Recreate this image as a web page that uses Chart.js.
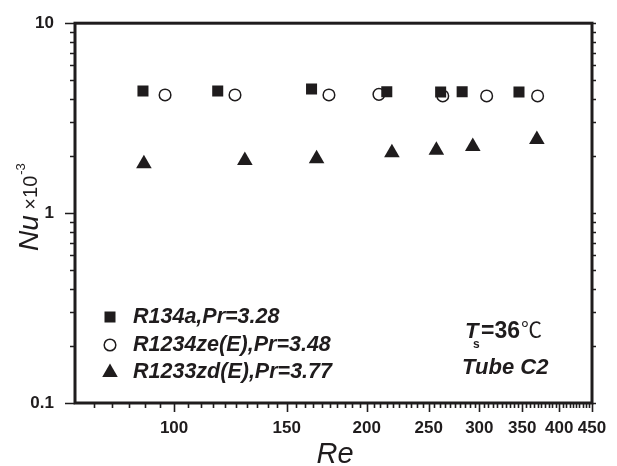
<!DOCTYPE html>
<html><head><meta charset="utf-8">
<script src="https://cdn.jsdelivr.net/npm/chart.js@4/dist/chart.umd.min.js"></script>
<style>html,body{margin:0;padding:0;background:#fff;}#wrap{width:617px;height:466px;}</style>
</head><body><div id="wrap"><canvas id="c" width="617" height="466"></canvas></div>
<script>
// ---- data ----
const xTickValues = [100, 150, 200, 250, 300, 350, 400, 450];
const yTickValues = [0.1, 1, 10];
const seriesNames = ['R134a,Pr=3.28', 'R1234ze(E),Pr=3.48', 'R1233zd(E),Pr=3.77'];
const reR134a = [89.4, 117, 164, 215, 261, 282, 346];
const nuR134a = [4.39, 4.39, 4.50, 4.35, 4.34, 4.35, 4.34];
const reR1234ze = [96.8, 124.5, 174.6, 209, 263, 308, 370];
const nuR1234ze = [4.19, 4.19, 4.19, 4.22, 4.14, 4.14, 4.14];
const reR1233zd = [89.7, 129, 167, 219, 257, 293, 369];
const nuR1233zd = [1.82, 1.89, 1.93, 2.08, 2.14, 2.24, 2.44];
const xTitle = 'Re';
const annotation1 = ['T', 's', '=36', '℃'];
const annotation2 = 'Tube C2';

const F = '"Liberation Sans", Arial, sans-serif';
const ink = '#1f1c1d';
const pts = (xs, ys) => xs.map((v, i) => ({x: v, y: ys[i]}));

function drawMarker(ctx, style, x, y) {
  ctx.save();
  ctx.fillStyle = ink; ctx.strokeStyle = ink;
  if (style === 'rect') { const s = 5.5; ctx.fillRect(x - s, y - s, 2 * s, 2 * s); }
  else if (style === 'circle') { ctx.fillStyle = '#fff'; ctx.lineWidth = 1.5; ctx.beginPath(); ctx.arc(x, y, 5.8, 0, Math.PI * 2); ctx.fill(); ctx.stroke(); }
  else { const r = 9; ctx.beginPath();
    for (let k = 0; k < 3; k++) { const a = k * 2 * Math.PI / 3; const px = x + Math.sin(a) * r, py = y - Math.cos(a) * r; k ? ctx.lineTo(px, py) : ctx.moveTo(px, py); }
    ctx.closePath(); ctx.fill(); }
  ctx.restore();
}

const decor = {
  id: 'decor',
  afterDraw(chart) {
    const {ctx, chartArea: a, scales: {x, y}} = chart;
    ctx.save();
    ctx.strokeStyle = ink;
    ctx.lineWidth = 3;
    ctx.strokeRect(a.left, a.top, a.right - a.left, a.bottom - a.top);
    // y ticks
    ctx.lineWidth = 1.6;
    ctx.beginPath();
    for (const d of [0.1, 1]) for (let k = 1; k <= 10; k++) {
      const v = d * k; const p = Math.round(y.getPixelForValue(v)) + 0.5;
      const major = (k === 1 || k === 10); const L = major ? 10 : 5;
      ctx.moveTo(a.left - L, p); ctx.lineTo(a.left, p);
      ctx.moveTo(a.right, p); ctx.lineTo(a.right + 4, p);
    }
    // x ticks
    for (let v = 75; v <= 450; v += 5) {
      const p = Math.round(x.getPixelForValue(v)) + 0.5;
      const major = xTickValues.includes(v); const L = major ? 9 : 5;
      ctx.moveTo(p, a.bottom); ctx.lineTo(p, a.bottom + L);
    }
    ctx.stroke();

    ctx.fillStyle = ink;
    // legend
    const ly = [317, 345, 371];
    const styles = ['rect', 'circle', 'triangle'];
    ctx.font = 'italic bold 21.5px ' + F;
    ctx.textBaseline = 'alphabetic'; ctx.textAlign = 'left';
    const base = [323, 350.5, 377.5];
    styles.forEach((s, i) => { drawMarker(ctx, s, 110, ly[i] + (s === 'triangle' ? 1.5 : 0)); ctx.fillStyle = ink; ctx.fillText(seriesNames[i], 133, base[i]); });

    // annotation
    ctx.font = 'italic bold 22px ' + F;
    ctx.fillText(annotation1[0], 465, 337.5);
    ctx.font = 'bold 12px ' + F;
    ctx.fillText(annotation1[1], 473, 348);
    ctx.font = 'bold 23px ' + F;
    ctx.fillText(annotation1[2], 481, 337.5);
    const w36 = ctx.measureText(annotation1[2]).width;
    ctx.font = '21px "Noto Sans CJK SC", "DejaVu Sans", sans-serif';
    ctx.fillText(annotation1[3], 481 + w36 + 1, 337);
    ctx.font = 'italic bold 22px ' + F;
    ctx.fillText(annotation2, 462, 373.5);

    // x title
    ctx.font = 'italic 29px ' + F;
    ctx.textAlign = 'center';
    ctx.fillText(xTitle, 335, 463);

    // y title (rotated)
    ctx.save();
    ctx.translate(37.5, 251);
    ctx.rotate(-Math.PI / 2);
    ctx.textAlign = 'left';
    ctx.font = 'italic 28px ' + F;
    ctx.fillText('Nu', 0, 0);
    let w = ctx.measureText('Nu').width;
    ctx.font = '20px ' + F;
    ctx.fillText(' \u00d710', w, -1);
    w += ctx.measureText(' \u00d710').width;
    ctx.font = '13px ' + F;
    ctx.fillText('-3', w + 1, -13);
    ctx.restore();
    ctx.restore();
  }
};

new Chart(document.getElementById('c'), {
  type: 'scatter',
  data: {
    datasets: [
      {label: seriesNames[0], data: pts(reR134a, nuR134a), pointStyle: 'rect', pointRadius: 7.8, backgroundColor: ink, borderWidth: 0},
      {label: seriesNames[1], data: pts(reR1234ze, nuR1234ze), pointStyle: 'circle', pointRadius: 5.8, backgroundColor: '#fff', borderColor: ink, borderWidth: 1.5},
      {label: seriesNames[2], data: pts(reR1233zd, nuR1233zd), pointStyle: 'triangle', pointRadius: 9, backgroundColor: ink, borderWidth: 0}
    ]
  },
  options: {
    responsive: false, animation: false, devicePixelRatio: 1,
    layout: {padding: {top: 18, right: 25, left: 0, bottom: 0}},
    plugins: {legend: {display: false}, tooltip: {enabled: false}},
    scales: {
      x: {
        type: 'logarithmic', min: 70, max: 450,
        afterBuildTicks: s => { s.ticks = xTickValues.map(v => ({value: v})); },
        afterFit: s => { s.height = 63; },
        grid: {display: false}, border: {display: false},
        ticks: {autoSkip: false, maxRotation: 0, minRotation: 0, padding: 7, color: ink,
          font: {family: F, size: 17, weight: 'bold'}, callback: v => String(v)}
      },
      y: {
        type: 'logarithmic', min: 0.1, max: 10,
        afterBuildTicks: s => { s.ticks = yTickValues.map(v => ({value: v})); },
        afterFit: s => { s.width = 75; },
        grid: {display: false}, border: {display: false},
        ticks: {autoSkip: false, padding: 13, color: ink,
          font: {family: F, size: 17, weight: 'bold'}, callback: v => String(v)}
      }
    }
  },
  plugins: [decor]
});
</script></body></html>
